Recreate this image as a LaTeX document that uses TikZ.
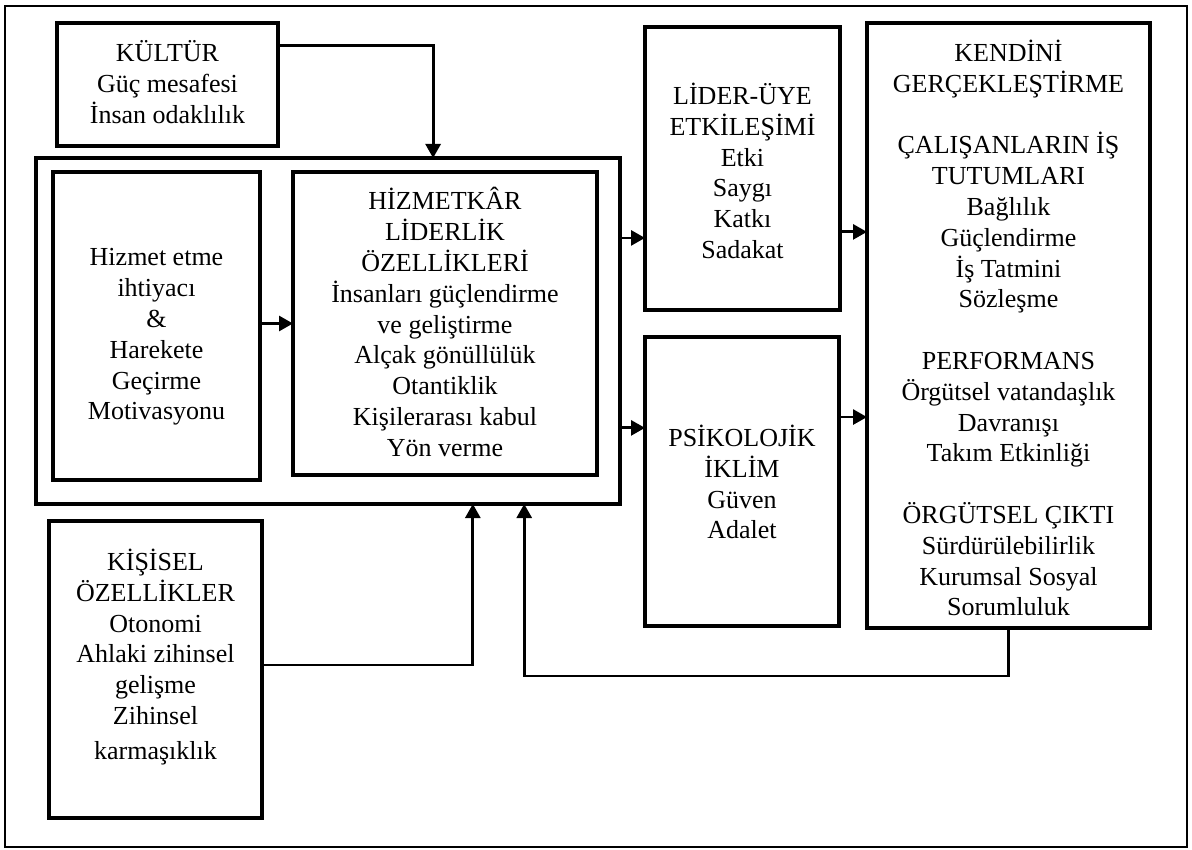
\documentclass[tikz,border=0pt]{standalone}
\usepackage{fontspec}
\setmainfont{Liberation Serif}
\usetikzlibrary{arrows.meta,calc}
\begin{document}
\begin{tikzpicture}[x=1pt,y=-1pt,
  box/.style={draw,line width=4.5pt,rectangle,inner sep=0pt,outer sep=0pt,anchor=north west},
  txt/.style={align=center,inner sep=0pt,font=\fontsize{26}{30.8}\selectfont},
  conn/.style={line width=2.8pt,-{Triangle[length=14pt,width=15pt]}}]
\useasboundingbox (0,0) rectangle (1192,850);

% outer frame
\node[draw,line width=2.5pt,rectangle,inner sep=0pt,outer sep=0pt,anchor=north west,
      minimum width=1182pt,minimum height=841pt] (frame) at (5,6) {};

% boxes
\node[box,minimum width=221pt,minimum height=123pt] (kultur)  at (57,23)  {};
\node[box,minimum width=584pt,minimum height=346pt] (group)   at (36,158) {};
\node[box,minimum width=207pt,minimum height=308pt] (needs)   at (53,172) {};
\node[box,minimum width=304pt,minimum height=303pt] (servant) at (293,172) {};
\node[box,minimum width=195pt,minimum height=283pt] (lmx)     at (645,27) {};
\node[box,minimum width=194pt,minimum height=289pt] (climate) at (645,337) {};
\node[box,minimum width=283pt,minimum height=605pt] (self)    at (867,23) {};
\node[box,minimum width=213pt,minimum height=297pt] (traits)  at (49,521) {};

% texts
\node[txt] (kulturT) at (167.5,82) {KÜLTÜR\\Güç mesafesi\\İnsan odaklılık};
\node[txt] (needsT) at (156.5,337) {Hizmet etme\\ihtiyacı\\\&\\Harekete\\Geçirme\\Motivasyonu};
\node[txt] (servantT) at (445,322) {HİZMETKÂR\\LİDERLİK\\ÖZELLİKLERİ\\İnsanları güçlendirme\\ve geliştirme\\Alçak gönüllülük\\Otantiklik\\Kişilerarası kabul\\Yön verme};
\node[txt] (lmxT) at (742.5,171) {LİDER-ÜYE\\ETKİLEŞİMİ\\Etki\\Saygı\\Katkı\\Sadakat};
\node[txt] (climateT) at (742,482) {PSİKOLOJİK\\İKLİM\\Güven\\Adalet};
\node[txt] (selfT) at (1008.5,328) {KENDİNİ\\GERÇEKLEŞTİRME\\\mbox{}\\ÇALIŞANLARIN İŞ\\TUTUMLARI\\Bağlılık\\Güçlendirme\\İş Tatmini\\Sözleşme\\\mbox{}\\PERFORMANS\\Örgütsel vatandaşlık\\Davranışı\\Takım Etkinliği\\\mbox{}\\ÖRGÜTSEL ÇIKTI\\Sürdürülebilirlik\\Kurumsal Sosyal\\Sorumluluk};
\node[txt] (traitsT) at (155.5,657) {KİŞİSEL\\ÖZELLİKLER\\Otonomi\\Ahlaki zihinsel\\gelişme\\Zihinsel\\[4pt]karmaşıklık};

% connection points
\coordinate (kOut) at ($(kultur.north east)!0.18!(kultur.south east)$);
\coordinate (gTop) at ($(group.north west)!0.68!(group.north east)$);
\coordinate (gR1)  at ($(group.north east)!0.231!(group.south east)$);
\coordinate (gR2)  at ($(group.north east)!0.78!(group.south east)$);
\coordinate (lOut) at ($(lmx.north east)!0.724!(lmx.south east)$);
\coordinate (cOut) at ($(climate.north east)!0.277!(climate.south east)$);
\coordinate (tOut) at ($(traits.north east)!0.485!(traits.south east)$);
\coordinate (gB1)  at ($(group.south west)!0.748!(group.south east)$);
\coordinate (gB2)  at ($(group.south west)!0.836!(group.south east)$);

% connectors
\draw[conn] (kOut) -| (gTop);
\draw[conn] (needs.east |- servant.west) -- (servant.west);
\draw[conn] (gR1) -- (gR1 -| lmx.west);
\draw[conn] (gR2) -- (gR2 -| climate.west);
\draw[conn] (lOut) -- (lOut -| self.west);
\draw[conn] (cOut) -- (cOut -| self.west);
\draw[conn] (tOut) -| (gB1);
\draw[conn] (self.south) -- ++(0,48) -| (gB2);
\end{tikzpicture}
\end{document}
